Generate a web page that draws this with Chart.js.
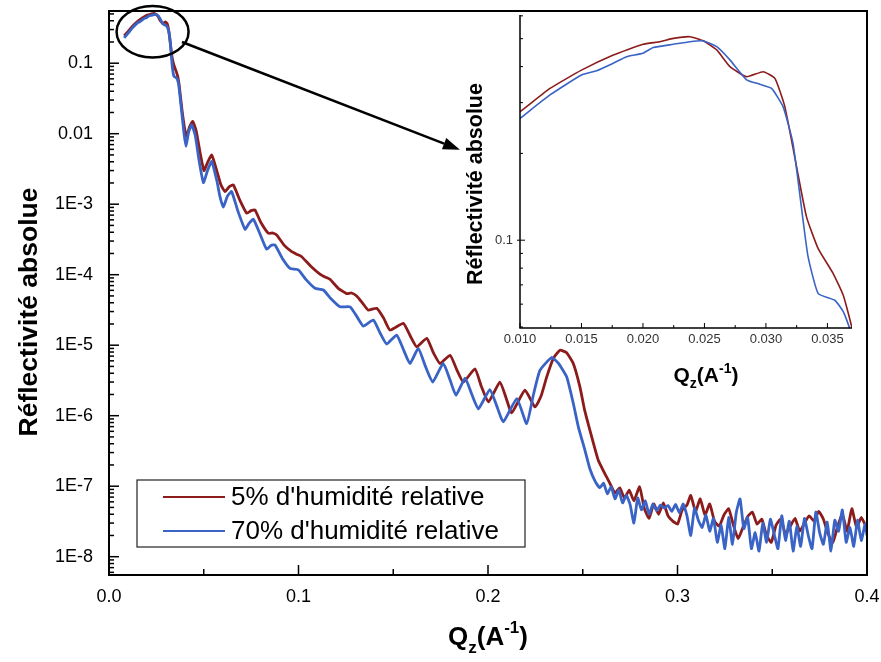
<!DOCTYPE html>
<html><head><meta charset="utf-8">
<script src="https://cdn.jsdelivr.net/npm/chart.js@4.4.0/dist/chart.umd.min.js"></script>
<style>
html,body{margin:0;padding:0;background:#fff;}
#wrap{position:relative;width:881px;height:662px;overflow:hidden;}
#main{position:absolute;left:0;top:0;}
#inset{position:absolute;left:440px;top:0;}
</style></head><body>
<div id="wrap"><canvas id="main" width="881" height="662"></canvas><canvas id="inset" width="430" height="400"></canvas></div>
<script>
// ---------- DATA ----------
const seriesNames = ["5% d'humidité relative", "70% d'humidité relative"];
const seriesColors = ['#8c1c1c', '#3a63c6'];

const qRed = [0.008,0.0100,0.01244,0.0150,0.01759,0.0200,0.02138,0.02247,0.02382,0.0249,0.0260,0.02707,0.02843,0.02978,0.03073,0.03154,0.03249,0.0333,0.03425,0.03547,0.03629,0.0370,
0.0385,0.0400,0.0410,0.0425,0.0442,0.0460,0.0480,0.0501,0.0520,0.0542,0.0570,0.0590,0.0612,0.0635,0.0656,0.0690,0.0727,0.0750,0.0770,0.0800,0.0841,0.0865,0.0885,0.0925,0.0964,0.0990,0.1017,0.1065,0.1113,0.1140,0.1166,0.1210,0.1254,0.1280,0.1307,0.1340,0.1368,0.1413,0.1450,0.1483,0.1553,0.1590,0.1624,0.1677,0.1710,0.1747,0.1800,0.1835,0.1870,0.1931,0.1965,0.2002,0.2063,0.2095,0.2125,0.2195,0.2248,0.2280,0.2310,0.2345,0.2380,0.2415,0.2450,0.2485,0.2510,0.2538,0.2582,0.2617,0.2644,
0.2670,0.2695,0.2720,0.2745,0.2770,0.2800,0.2825,0.2850,0.2875,0.2900,0.2925,0.2950,0.2975,0.3000,0.3025,0.3050,0.3070,0.3095,0.3120,0.3145,0.3170,0.3195,0.3220,0.3245,0.3270,0.3295,0.3320,0.3345,0.3370,0.3395,0.3420,0.3445,0.3470,0.3495,0.3520,0.3545,0.3570,0.3595,0.3620,0.3645,0.3670,0.3695,0.3720,0.3745,0.3770,0.3795,0.3820,0.3845,0.3870,0.3895,0.3920,0.3945,0.3970,0.4000];
const rRed = [0.245,0.279,0.336,0.389,0.439,0.478,0.488,0.501,0.508,0.492,0.457,0.400,0.369,0.384,0.364,0.290,0.180,0.1205,0.0935,0.0766,0.0644,0.0495,
0.022,0.0115,0.0091,0.0125,0.0149,0.0110,0.0055,0.0030,0.0039,0.00497,0.0029,0.0019,0.00151,0.00178,0.00188,0.00115,7.44e-4,8.1e-4,8.3e-4,5.6e-4,3.87e-4,3.9e-4,3.66e-4,2.6e-4,2.12e-4,1.95e-4,1.80e-4,1.32e-4,1.02e-4,9.3e-5,8.6e-5,6.4e-5,5.4e-5,5.5e-5,5.0e-5,3.9e-5,3.15e-5,3.34e-5,2.4e-5,1.64e-5,2.04e-5,1.35e-5,9.5e-6,1.25e-5,8.0e-6,5.5e-6,7.2e-6,4.5e-6,3.0e-6,4.6e-6,2.6e-6,1.57e-6,3.0e-6,1.8e-6,1.1e-6,2.3e-6,1.33e-6,1.9e-6,3.56e-6,6.5e-6,8.5e-6,7.8e-6,5.5e-6,2.57e-6,1.2e-6,6.2e-7,2.33e-7,1.5e-7,1.09e-7,
8.0e-8,9.5e-8,6.8e-8,8.8e-8,6.2e-8,9.8e-8,4.8e-8,3.5e-8,5.6e-8,4.0e-8,5.8e-8,3.8e-8,3.2e-8,2.9e-8,4.6e-8,5.4e-8,7.4e-8,4.4e-8,6.6e-8,3.9e-8,5.6e-8,3.2e-8,2.7e-8,3.9e-8,4.8e-8,2.8e-8,1.8e-8,2.6e-8,3.7e-8,4.3e-8,2.9e-8,3.4e-8,2.0e-8,1.6e-8,2.8e-8,3.4e-8,2.1e-8,2.7e-8,3.5e-8,2.3e-8,3.0e-8,3.8e-8,3.2e-8,4.4e-8,3.4e-8,2.1e-8,1.6e-8,2.7e-8,4.0e-8,2.3e-8,4.8e-8,2.6e-8,3.6e-8,2.5e-8];

const qBlue = [0.008,0.0100,0.01244,0.0150,0.01623,0.01759,0.01867,0.0200,0.02084,0.02247,0.02382,0.0249,0.0260,0.02707,0.02843,0.0295,0.03046,0.0314,0.0322,0.03302,0.03343,0.03425,0.0356,0.0363,0.0368,
0.0380,0.0395,0.0406,0.0420,0.0436,0.0455,0.0475,0.0498,0.0520,0.0542,0.0570,0.0585,0.0603,0.0625,0.0647,0.0680,0.0718,0.0740,0.0762,0.0800,0.0832,0.0855,0.0876,0.0915,0.0955,0.0999,0.1040,0.1087,0.1131,0.1170,0.1219,0.1272,0.1310,0.1342,0.1395,0.1430,0.1465,0.1518,0.1555,0.1588,0.1632,0.1670,0.1708,0.1764,0.1800,0.1831,0.1879,0.1915,0.1949,0.2010,0.2045,0.2081,0.2152,0.2204,0.2240,0.2274,0.2336,0.2370,0.2415,0.2450,0.2477,0.2512,0.2538,0.2565,
0.259,0.261,0.263,0.265,0.267,0.269,0.271,0.273,0.275,0.277,0.279,0.281,0.283,0.285,0.287,0.289,0.291,0.293,0.295,0.297,0.299,0.301,0.303,0.305,0.307,0.309,0.311,0.313,0.315,0.317,0.319,0.321,0.323,0.325,0.327,0.329,0.331,0.333,0.335,0.337,0.339,0.341,0.343,0.345,0.347,0.349,0.351,0.353,0.355,0.357,0.359,0.361,0.363,0.365,0.367,0.369,0.371,0.373,0.375,0.377,0.379,0.381,0.383,0.385,0.387,0.389,0.391,0.393,0.395,0.397,0.399,0.400];
const rBlue = [0.228,0.2646,0.319,0.374,0.387,0.411,0.433,0.445,0.466,0.478,0.488,0.491,0.469,0.422,0.360,0.3475,0.336,0.290,0.217,0.1173,0.0875,0.0653,0.0619,0.0564,0.0494,
0.025,0.0105,0.0066,0.0105,0.01337,0.0095,0.0042,0.00203,0.0030,0.00403,0.0021,0.0013,9.06e-4,1.3e-3,1.51e-3,8.0e-4,4.42e-4,5.4e-4,6.12e-4,3.6e-4,2.30e-4,2.6e-4,2.64e-4,1.7e-4,1.23e-4,1.17e-4,8.5e-5,6.41e-5,6.07e-5,4.6e-5,3.5e-5,3.5e-5,2.5e-5,1.87e-5,2.27e-5,1.5e-5,1.04e-5,1.39e-5,8.5e-6,5.5e-6,9.0e-6,5.0e-6,3.0e-6,5.5e-6,3.2e-6,1.95e-6,3.4e-6,2.0e-6,1.25e-6,2.35e-6,1.4e-6,8.2e-7,1.75e-6,7.7e-7,2.0e-6,4.4e-6,6.7e-6,5.6e-6,3.56e-6,1.5e-6,6.9e-7,3.2e-7,1.75e-7,1.18e-7,
9.5e-8,1.1e-7,7.8e-8,9.8e-8,6.6e-8,8.8e-8,5.8e-8,7.4e-8,5.5e-8,3.0e-8,6.8e-8,4.6e-8,6.2e-8,4.0e-8,5.6e-8,4.5e-8,5.4e-8,4.9e-8,5.3e-8,4.4e-8,5.5e-8,4.2e-8,5.6e-8,3.8e-8,2.0e-8,4.9e-8,3.3e-8,2.6e-8,3.9e-8,2.3e-8,3.5e-8,1.6e-8,2.8e-8,1.3e-8,3.6e-8,1.5e-8,4.2e-8,6.6e-8,2.5e-8,3.6e-8,1.3e-8,2.2e-8,1.2e-8,3.0e-8,1.6e-8,3.4e-8,2.1e-8,1.3e-8,3.8e-8,1.7e-8,3.2e-8,1.2e-8,2.7e-8,1.4e-8,3.5e-8,2.0e-8,1.3e-8,4.3e-8,2.2e-8,1.5e-8,3.1e-8,1.2e-8,3.3e-8,2.3e-8,4.6e-8,1.6e-8,2.6e-8,1.4e-8,3.3e-8,1.7e-8,2.9e-8,2.0e-8];

const xTickValues = [0.0, 0.1, 0.2, 0.3, 0.4];
const xTickLabels = ['0.0', '0.1', '0.2', '0.3', '0.4'];
const yTickValues = [1e-8, 1e-7, 1e-6, 1e-5, 1e-4, 1e-3, 0.01, 0.1];
const yTickLabels = ['1E-8', '1E-7', '1E-6', '1E-5', '1E-4', '1E-3', '0.01', '0.1'];
const insetXTickValues = [0.010, 0.015, 0.020, 0.025, 0.030, 0.035];
const insetXTickLabels = ['0.010', '0.015', '0.020', '0.025', '0.030', '0.035'];
const insetYTickValues = [0.1];
const insetYTickLabels = ['0.1'];
const yTitle = 'Réflectivité absolue';

// ---------- CHART ----------
const FONT = "'Liberation Sans', Arial, sans-serif";
Chart.defaults.font.family = FONT;
Chart.defaults.color = '#000';

function pts(q, r) { return q.map((x, i) => ({ x: x, y: r[i] })); }
function makeDatasets(width) {
  return [
    { label: seriesNames[1], data: pts(qBlue, rBlue), borderColor: seriesColors[1], borderWidth: width, pointRadius: 0, tension: 0.15, order: 0, fill: false },
    { label: seriesNames[0], data: pts(qRed, rRed), borderColor: seriesColors[0], borderWidth: width, pointRadius: 0, tension: 0.15, order: 1, fill: false }
  ];
}
function noPadY(s, w) { s.width = w; s.paddingTop = 0; s.paddingBottom = 0; }
function noPadX(s, h) { s.height = h; s.paddingLeft = 0; s.paddingRight = 0; }

function drawQz(ctx, cx, base, big, small, weight) {
  const fb = weight + ' ' + big + 'px ' + FONT, fs = weight + ' ' + small + 'px ' + FONT;
  const parts = [['Q', fb, 0], ['z', fs, small * 0.45], ['(A', fb, 0], ['-1', fs, -big * 0.45], [')', fb, 0]];
  let w = 0;
  parts.forEach(p => { ctx.font = p[1]; w += ctx.measureText(p[0]).width; });
  let x = cx - w / 2;
  ctx.save(); ctx.fillStyle = '#000'; ctx.textAlign = 'left'; ctx.textBaseline = 'alphabetic';
  parts.forEach(p => { ctx.font = p[1]; ctx.fillText(p[0], x, base + p[2]); x += ctx.measureText(p[0]).width; });
  ctx.restore();
}
function drawVTitle(ctx, text, cx, cy, size) {
  ctx.save();
  ctx.translate(cx, cy); ctx.rotate(-Math.PI / 2);
  ctx.font = 'bold ' + size + 'px ' + FONT; ctx.fillStyle = '#000';
  ctx.textAlign = 'center'; ctx.textBaseline = 'middle';
  ctx.fillText(text, 0, 0);
  ctx.restore();
}

const mainDecor = {
  id: 'mainDecor',
  afterDraw(chart) {
    const ctx = chart.ctx, a = chart.chartArea, xs = chart.scales.x, ys = chart.scales.y;
    ctx.save();
    ctx.strokeStyle = '#000'; ctx.lineWidth = 2;
    ctx.strokeRect(a.left, a.top, a.right - a.left, a.bottom - a.top);
    ctx.lineWidth = 1.5;
    for (let d = -9; d <= -1; d++) {
      for (let m = 1; m <= 9; m++) {
        const v = m * Math.pow(10, d);
        if (v < ys.min || v > ys.max) continue;
        const y = ys.getPixelForValue(v);
        const len = m === 1 ? 10 : 5;
        ctx.beginPath(); ctx.moveTo(a.left, y); ctx.lineTo(a.left + len, y); ctx.stroke();
      }
    }
    for (let i = 0; i <= 8; i++) {
      const v = i * 0.05;
      const x = xs.getPixelForValue(v);
      const len = i % 2 === 0 ? 10 : 6;
      ctx.beginPath(); ctx.moveTo(x, a.bottom); ctx.lineTo(x, a.bottom - len); ctx.stroke();
    }
    const cx = xs.getPixelForValue(0.023), cy = ys.getPixelForValue(0.28);
    const rx = xs.getPixelForValue(0.042) - cx, ry = cy - ys.getPixelForValue(0.65);
    ctx.lineWidth = 2.5;
    ctx.beginPath(); ctx.ellipse(cx, cy, rx, ry, 0, 0, Math.PI * 2); ctx.stroke();
    const x0 = xs.getPixelForValue(0.0385), y0 = ys.getPixelForValue(0.2);
    const x1 = xs.getPixelForValue(0.1852), y1 = ys.getPixelForValue(0.0059);
    const ang = Math.atan2(y1 - y0, x1 - x0), L = 17, W = 6;
    const bx = x1 - L * Math.cos(ang), by = y1 - L * Math.sin(ang);
    ctx.beginPath(); ctx.moveTo(x0, y0); ctx.lineTo(bx, by); ctx.stroke();
    ctx.fillStyle = '#000';
    ctx.beginPath(); ctx.moveTo(x1, y1);
    ctx.lineTo(bx + W * Math.sin(ang), by - W * Math.cos(ang));
    ctx.lineTo(bx - W * Math.sin(ang), by + W * Math.cos(ang));
    ctx.closePath(); ctx.fill();
    ctx.lineWidth = 1.2; ctx.strokeStyle = '#222';
    ctx.fillStyle = '#fff';
    ctx.fillRect(137, 480, 388, 67);
    ctx.strokeRect(137, 480, 388, 67);
    ctx.font = '26px ' + FONT; ctx.textBaseline = 'middle'; ctx.textAlign = 'left';
    [[0, 497], [1, 531]].forEach(([k, y]) => {
      ctx.strokeStyle = seriesColors[k]; ctx.lineWidth = 2;
      ctx.beginPath(); ctx.moveTo(163, y); ctx.lineTo(225, y); ctx.stroke();
      ctx.fillStyle = '#000'; ctx.fillText(seriesNames[k], 231, y + 1);
    });
    ctx.restore();
    drawQz(ctx, (a.left + a.right) / 2, 645, 26, 17, 'bold');
    drawVTitle(ctx, yTitle, 30, 312, 26.5);
  }
};

new Chart(document.getElementById('main'), {
  type: 'line',
  data: { datasets: makeDatasets(2.8) },
  options: {
    responsive: false, animation: false, devicePixelRatio: 1,
    layout: { padding: { left: 0, right: 14, top: 11, bottom: 0 } },
    plugins: { legend: { display: false }, tooltip: { enabled: false } },
    scales: {
      x: {
        type: 'linear', min: 0, max: 0.4,
        afterFit: s => noPadX(s, 87),
        afterBuildTicks: s => { s.ticks = xTickValues.map(v => ({ value: v })); },
        grid: { display: false, drawTicks: false }, border: { display: false },
        ticks: { padding: 11, color: '#000', font: { size: 18 }, maxRotation: 0,
          callback: (v) => { const i = xTickValues.findIndex(t => Math.abs(t - v) < 1e-9); return i >= 0 ? xTickLabels[i] : ''; } }
      },
      y: {
        type: 'logarithmic', min: 5.5e-9, max: 0.55,
        afterFit: s => noPadY(s, 109),
        afterBuildTicks: s => { s.ticks = yTickValues.map(v => ({ value: v })); },
        grid: { display: false, drawTicks: false }, border: { display: false },
        ticks: { padding: 16, color: '#000', font: { size: 18 }, autoSkip: false,
          callback: (v) => { const i = yTickValues.findIndex(t => Math.abs(t - v) / t < 1e-6); return i >= 0 ? yTickLabels[i] : ''; } }
      }
    }
  },
  plugins: [mainDecor]
});

// ---------- INSET ----------
const insetDecor = {
  id: 'insetDecor',
  afterDraw(chart) {
    const ctx = chart.ctx, a = chart.chartArea, xs = chart.scales.x, ys = chart.scales.y;
    ctx.save();
    ctx.strokeStyle = '#000'; ctx.lineWidth = 1.5;
    ctx.beginPath(); ctx.moveTo(a.left, a.top); ctx.lineTo(a.left, a.bottom); ctx.lineTo(a.right, a.bottom); ctx.stroke();
    ctx.lineWidth = 1;
    [0.05, 0.06, 0.07, 0.08, 0.09, 0.1, 0.2, 0.3, 0.4, 0.5, 0.6].forEach(v => {
      if (v < ys.min || v > ys.max) return;
      const y = ys.getPixelForValue(v);
      if (v === 0.1) { ctx.beginPath(); ctx.moveTo(a.left - 3, y); ctx.lineTo(a.left + 5, y); ctx.stroke(); }
      else { ctx.beginPath(); ctx.moveTo(a.left, y); ctx.lineTo(a.left + 3, y); ctx.stroke(); }
    });
    for (let i = 0; i <= 11; i++) {
      const v = 0.010 + i * 0.0025;
      if (v > xs.max + 1e-9) break;
      const x = xs.getPixelForValue(v);
      const len = i % 2 === 0 ? 5 : 3;
      ctx.beginPath(); ctx.moveTo(x, a.bottom); ctx.lineTo(x, a.bottom - len); ctx.stroke();
    }
    ctx.restore();
    drawQz(ctx, (a.left + a.right) / 2 + 20, 382, 21, 14, 'bold');
    drawVTitle(ctx, yTitle, 36, 184, 21.5);
  }
};

new Chart(document.getElementById('inset'), {
  type: 'line',
  data: { datasets: makeDatasets(1.6) },
  options: {
    responsive: false, animation: false, devicePixelRatio: 1,
    layout: { padding: { left: 0, right: 18, top: 15, bottom: 0 } },
    plugins: { legend: { display: false }, tooltip: { enabled: false } },
    scales: {
      x: {
        type: 'linear', min: 0.010, max: 0.037,
        afterFit: s => noPadX(s, 72),
        afterBuildTicks: s => { s.ticks = insetXTickValues.map(v => ({ value: v })); },
        grid: { display: false, drawTicks: false }, border: { display: false },
        ticks: { padding: 4, color: '#333', font: { size: 13 }, maxRotation: 0,
          callback: (v) => { const i = insetXTickValues.findIndex(t => Math.abs(t - v) < 1e-9); return i >= 0 ? insetXTickLabels[i] : ''; } }
      },
      y: {
        type: 'logarithmic', min: 0.0496, max: 0.604,
        afterFit: s => noPadY(s, 80),
        afterBuildTicks: s => { s.ticks = insetYTickValues.map(v => ({ value: v })); },
        grid: { display: false, drawTicks: false }, border: { display: false },
        ticks: { padding: 7, color: '#333', font: { size: 13 }, autoSkip: false,
          callback: (v) => { const i = insetYTickValues.findIndex(t => Math.abs(t - v) / t < 1e-6); return i >= 0 ? insetYTickLabels[i] : ''; } }
      }
    }
  },
  plugins: [insetDecor]
});
</script>
</body></html>
